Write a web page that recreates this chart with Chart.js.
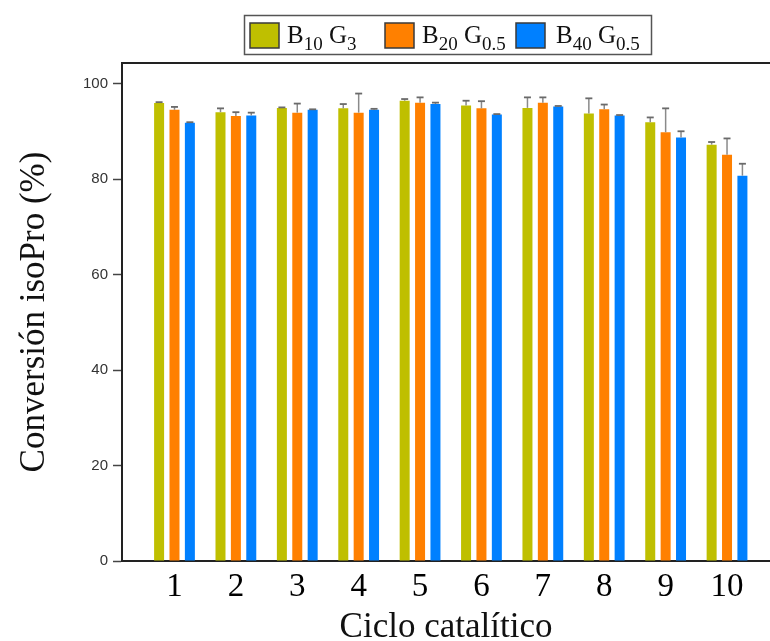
<!DOCTYPE html>
<html><head><meta charset="utf-8">
<script src="https://cdn.jsdelivr.net/npm/chart.js@4.4.1/dist/chart.umd.min.js"></script>
<style>html,body{margin:0;padding:0;background:#fff;overflow:hidden}</style>
</head><body>
<canvas id="c" width="770" height="641"></canvas>
<script>
const cycles = [1,2,3,4,5,6,7,8,9,10];
const tickLabels = ['1','2','3','4','5','6','7','8','9','10'];
const seriesNames = ['B_{10} G_{3}', 'B_{20} G_{0.5}', 'B_{40} G_{0.5}'];
const b10g3    = [95.9, 94.0, 94.9, 94.8, 96.4, 95.4, 94.9, 93.7, 91.9, 87.2];
const b10g3Err = [0.2, 0.8, 0.1, 0.9, 0.35, 1.0, 2.2, 3.2, 1.0, 0.55];
const b20g05    = [94.5, 93.2, 93.9, 93.9, 96.0, 94.8, 96.0, 94.6, 89.8, 85.1];
const b20g05Err = [0.6, 0.8, 1.9, 4.0, 1.1, 1.5, 1.1, 1.0, 5.0, 3.4];
const b40g05    = [91.8, 93.3, 94.5, 94.5, 95.7, 93.5, 95.2, 93.3, 88.7, 80.7];
const b40g05Err = [0.1, 0.6, 0.1, 0.2, 0.3, 0.1, 0.1, 0.1, 1.3, 2.5];
const yTicks = [0, 20, 40, 60, 80, 100];

const plainName = s => s.replace(/[_{}]/g, '');

const errorBars = {
  id: 'errorBars',
  afterDatasetsDraw(chart) {
    const ctx = chart.ctx, ys = chart.scales.y;
    ctx.save();
    chart.data.datasets.forEach((ds, i) => {
      const meta = chart.getDatasetMeta(i);
      meta.data.forEach((el, j) => {
        const e = ds.errors[j];
        const yTop = el.y;
        const yE = ys.getPixelForValue(ds.data[j] + e);
        ctx.strokeStyle = '#8a8a8a'; ctx.lineWidth = 1.5;
        ctx.beginPath(); ctx.moveTo(el.x, yTop); ctx.lineTo(el.x, yE); ctx.stroke();
        ctx.strokeStyle = '#6a6a6a'; ctx.lineWidth = 1.8;
        ctx.beginPath(); ctx.moveTo(el.x - 3.5, yE); ctx.lineTo(el.x + 3.5, yE); ctx.stroke();
      });
    });
    ctx.restore();
  }
};

const frame = {
  id: 'frame',
  afterDraw(chart) {
    const {ctx, chartArea: a} = chart;
    ctx.save();
    ctx.strokeStyle = '#222'; ctx.lineWidth = 2;
    ctx.beginPath(); ctx.moveTo(a.left - 1, a.top); ctx.lineTo(a.right, a.top); ctx.stroke();
    ctx.restore();
  }
};

const subLegend = {
  id: 'subLegend',
  afterDraw(chart, args, opts) {
    const ctx = chart.ctx;
    ctx.save();
    ctx.strokeStyle = '#555'; ctx.lineWidth = 1.5;
    ctx.strokeRect(244.5, 15.5, 407, 39);
    chart.data.datasets.forEach((ds, i) => {
      const sx = opts.swatchX[i];
      ctx.fillStyle = ds.backgroundColor;
      ctx.fillRect(sx, 23, 29, 25);
      ctx.strokeStyle = '#3a3a3a'; ctx.lineWidth = 1.5;
      ctx.strokeRect(sx, 23, 29, 25);
      let x = opts.textX[i];
      ctx.fillStyle = '#111'; ctx.textBaseline = 'alphabetic'; ctx.textAlign = 'left';
      seriesNames[i].split(/(_\{[^}]*\})/).forEach(p => {
        if (!p) return;
        if (p.startsWith('_{')) {
          const t = p.slice(2, -1);
          ctx.font = '19px "Liberation Serif"';
          ctx.fillText(t, x, 50);
          x += ctx.measureText(t).width;
        } else {
          ctx.font = '25px "Liberation Serif"';
          ctx.fillText(p, x, 43);
          x += ctx.measureText(p).width;
        }
      });
    });
    ctx.restore();
  }
};

const series = [b10g3, b20g05, b40g05];
const errs = [b10g3Err, b20g05Err, b40g05Err];
const colors = ['#BFBF00', '#FF8000', '#0080FF'];

new Chart(document.getElementById('c'), {
  type: 'bar',
  data: {
    labels: cycles,
    datasets: series.map((d, i) => ({
      label: plainName(seriesNames[i]),
      data: d,
      errors: errs[i],
      backgroundColor: colors[i],
      borderWidth: 0,
      categoryPercentage: 0.752,
      barPercentage: 0.65
    }))
  },
  options: {
    responsive: false,
    animation: false,
    devicePixelRatio: 1,
    layout: { padding: { top: 63, left: 0, right: 0, bottom: 0 } },
    plugins: {
      legend: { display: false },
      tooltip: { enabled: false },
      subLegend: { swatchX: [250, 385, 516], textX: [287, 422, 556] }
    },
    scales: {
      x: {
        type: 'linear',
        min: 0.145,
        max: 10.70,
        offset: false,
        afterBuildTicks: s => { s.ticks = cycles.map(v => ({ value: v })); },
        afterFit: s => { s.height = 80; },
        ticks: {
          autoSkip: false, maxRotation: 0, padding: 7,
          callback: (v, i) => tickLabels[i],
          color: '#000',
          font: { family: '"Liberation Serif"', size: 33 }
        },
        grid: { display: false, drawTicks: false, tickLength: 0, offset: false },
        border: { display: true, color: '#222', width: 2 },
        title: {
          display: true, text: 'Ciclo catalítico', color: '#111',
          font: { family: '"Liberation Serif"', size: 35, lineHeight: 0.75 },
          padding: 0
        }
      },
      y: {
        min: 0,
        max: 104.3,
        afterBuildTicks: s => { s.ticks = yTicks.map(v => ({ value: v })); },
        afterFit: s => { s.width = 122; },
        ticks: {
          padding: 5, color: '#333',
          font: { family: '"Liberation Sans"', size: 15 }
        },
        grid: { display: true, drawOnChartArea: false, drawTicks: true, tickLength: 9, tickColor: '#444', tickWidth: 1.5 },
        border: { display: true, color: '#222', width: 2 },
        title: {
          display: true, text: 'Conversión isoPro (%)', color: '#111',
          font: { family: '"Liberation Serif"', size: 35, lineHeight: 1.2 },
          padding: { top: 14, bottom: 0 }
        }
      }
    }
  },
  plugins: [errorBars, frame, subLegend]
});
</script>
</body></html>
